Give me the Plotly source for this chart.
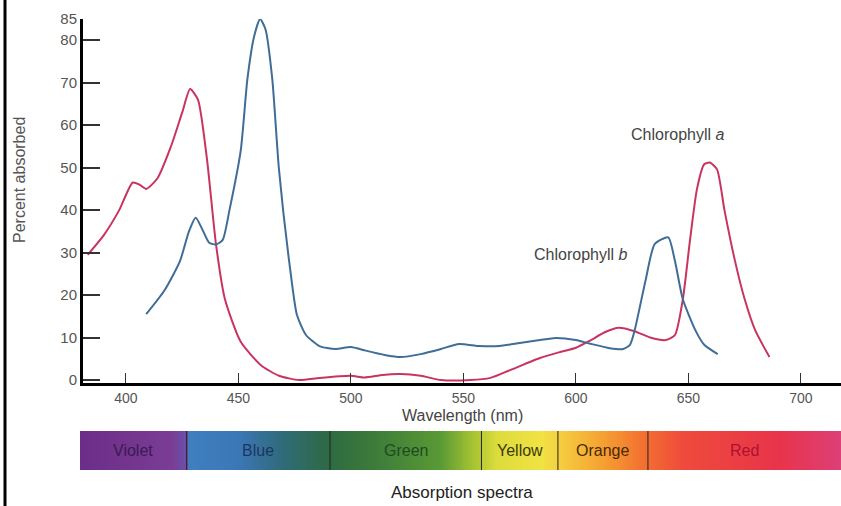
import numpy as np
import plotly.graph_objects as go

# ---- data ----
chl_a_nm = [383, 390, 397, 403, 406, 409, 414, 420, 425, 428.5, 432, 436, 440, 444, 451, 460, 468, 477,
            486, 500, 506, 514, 522, 531, 540, 553, 562, 571, 584, 593, 600, 606, 613, 619, 626, 633,
            640, 644, 647.5, 650.7, 653.8, 657, 659.5, 662.7, 666, 670.7, 675, 679.6, 686]
chl_a_val = [29.5, 34, 40, 46.5, 46, 45, 47.5, 55, 63, 68.5, 66, 52, 32, 19, 9, 3.5, 1, 0,
             0.5, 1, 0.6, 1.2, 1.4, 1, 0, 0, 0.5, 2.4, 5.2, 6.6, 7.6, 9.2, 11.3, 12.3, 11.5, 10,
             9.4, 10.6, 19, 33, 45, 50.8, 51.2, 49.6, 40, 28, 19, 11.8, 5.4]

chl_b_nm = [409, 417, 424, 428, 431, 434, 437, 440, 443, 446, 451, 454, 457, 459.6, 462, 465, 468, 473,
            476, 480, 486, 493, 500, 506, 515, 522, 531, 540, 548, 557, 566, 575, 584, 591, 600, 606,
            615, 621, 624, 626, 631, 635, 641, 644, 647.5, 653, 657, 663]
chl_b_val = [15.5, 21, 28, 35, 38.2, 35.4, 32.3, 31.9, 33, 40, 54, 71, 81, 85, 82.6, 71, 49.6, 26,
             15.3, 10.6, 8, 7.3, 7.8, 7, 5.9, 5.4, 6.1, 7.3, 8.5, 8, 8, 8.7, 9.4, 9.9, 9.4, 8.6,
             7.5, 7.3, 8.3, 11.5, 23.6, 32, 33.6, 28, 19, 11.8, 8.3, 6.1]

band_names = ["Violet", "Blue", "Green", "Yellow", "Orange", "Red"]
band_edges = [379.6, 427, 490.7, 558, 592, 632, 717.8]
band_text_colors = ["#3b1a55", "#1d3566", "#1f4a22", "#3a3a10", "#4a2a08", "#b01030"]

spectrum_nm = [379.6, 420, 427, 428, 450, 470, 490, 510, 540, 553, 565, 585, 597, 612, 630, 648, 690, 717.8]
spectrum_col = ["#6b2d87", "#7b3c95", "#6a50a8", "#3f7fc0", "#3b77b6", "#2f6b78", "#2e6a42", "#3c7b3a",
                "#5a9a35", "#9fc032", "#dcdc3c", "#f2e244", "#f5c43e", "#f5a032", "#f27030", "#ef4a3c",
                "#e8344a", "#dd3f78"]

y_ticks = [0, 10, 20, 30, 40, 50, 60, 70, 80, 85]
x_ticks = [400, 450, 500, 550, 600, 650, 700]

RED = "#c9345f"
BLUE = "#3f6d97"
W, H = 841, 506

fig = go.Figure()

# spectrum colour bar (heatmap on secondary axes)
lo, hi = spectrum_nm[0], spectrum_nm[-1]
cs = [[(v - lo) / (hi - lo), c] for v, c in zip(spectrum_nm, spectrum_col)]
grid = np.linspace(lo, hi, 400)
fig.add_trace(go.Heatmap(x=grid, y=[0], z=[grid], colorscale=cs, zmin=lo, zmax=hi,
                         showscale=False, hoverinfo="skip", xaxis="x2", yaxis="y2"))

fig.add_trace(go.Scatter(x=chl_a_nm, y=chl_a_val, mode="lines",
                         line=dict(color=RED, width=2, shape="spline", smoothing=0.6),
                         name="Chlorophyll a", showlegend=False))
fig.add_trace(go.Scatter(x=chl_b_nm, y=chl_b_val, mode="lines",
                         line=dict(color=BLUE, width=2, shape="spline", smoothing=0.6),
                         name="Chlorophyll b", showlegend=False))

font = "Liberation Sans, Arial, sans-serif"

fig.update_layout(
    template="none",
    width=W, height=H, margin=dict(l=0, r=0, t=0, b=0, pad=0, autoexpand=False),
    paper_bgcolor="white", plot_bgcolor="white",
    font=dict(family=font, color="#555555", size=14),
    xaxis=dict(domain=[83 / W, 1.0], range=[380.9, 717.8], tickvals=x_ticks,
               ticks="inside", ticklen=10, tickwidth=1, tickcolor="#333", automargin=False,
               showline=True, linecolor="black", linewidth=3, showgrid=False, zeroline=False,
               tickfont=dict(size=14, color="#555"), anchor="y"),
    yaxis=dict(domain=[1 - 383 / H, 1 - 19 / H], range=[-0.7, 85], tickvals=y_ticks,
               ticks="inside", ticklen=17, tickwidth=1.5, tickcolor="#333", automargin=False,
               showline=True, linecolor="black", linewidth=3, showgrid=False, zeroline=False,
               tickfont=dict(size=15, color="#555"), anchor="x"),
    xaxis2=dict(domain=[80 / W, 1.0], range=[379.6, 717.8], visible=False, anchor="y2"),
    yaxis2=dict(domain=[1 - 470 / H, 1 - 431 / H], range=[-0.5, 0.5], visible=False, anchor="x2"),
)

# band separators
for e in band_edges[1:-1]:
    fig.add_shape(type="line", xref="x2", yref="y2", x0=e, x1=e, y0=-0.5, y1=0.5,
                  line=dict(color="#222", width=1))

# band labels
for i, name in enumerate(band_names):
    cx = (band_edges[i] + band_edges[i + 1]) / 2
    fig.add_annotation(x=cx, y=0, xref="x2", yref="y2", text=name, showarrow=False,
                       xanchor="center", yanchor="middle",
                       font=dict(size=16, color=band_text_colors[i], family=font))

# curve labels
fig.add_annotation(x=645, y=57.8, text="Chlorophyll <i>a</i>", showarrow=False,
                   xanchor="center", yanchor="middle", font=dict(size=16, color="#444", family=font))
fig.add_annotation(x=602, y=29.6, text="Chlorophyll <i>b</i>", showarrow=False,
                   xanchor="center", yanchor="middle", font=dict(size=16, color="#444", family=font))

# axis titles
fig.add_annotation(x=462 / W, y=1 - 415 / H, xref="paper", yref="paper", text="Wavelength (nm)",
                   xanchor="center", yanchor="middle",
                   showarrow=False, font=dict(size=16, color="#444", family=font))
fig.add_annotation(x=20 / W, y=1 - 180 / H, xref="paper", yref="paper", text="Percent absorbed",
                   xanchor="center", yanchor="middle",
                   textangle=-90, showarrow=False, font=dict(size=16, color="#555", family=font))
fig.add_annotation(x=462 / W, y=1 - 492 / H, xref="paper", yref="paper", text="Absorption spectra",
                   xanchor="center", yanchor="middle",
                   showarrow=False, font=dict(size=17, color="#222", family=font))

# left frame line
fig.add_shape(type="line", xref="paper", yref="paper", x0=5 / W, x1=5 / W, y0=0, y1=1,
              line=dict(color="black", width=3))

fig.write_html("out.html", config={"displayModeBar": False},
               post_script="document.body.style.margin='0';document.body.style.overflow='hidden';")
